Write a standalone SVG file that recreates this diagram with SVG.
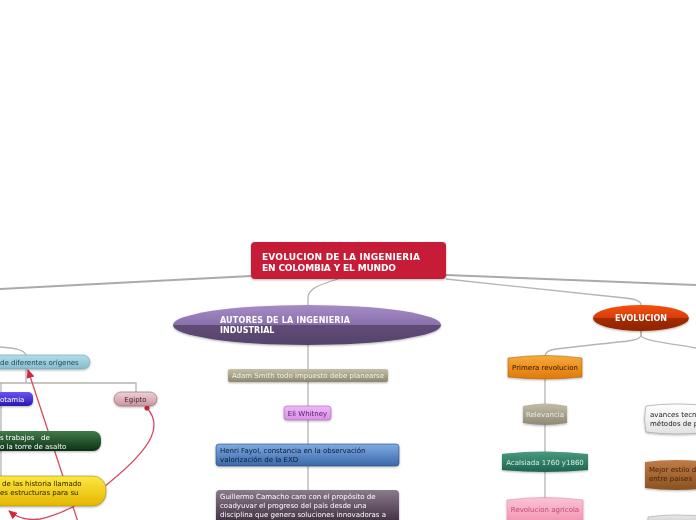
<svg xmlns="http://www.w3.org/2000/svg" width="696" height="520" viewBox="0 0 696 520">
<style>
text{font-family:"DejaVu Sans","Liberation Sans",sans-serif;font-size:7px}
.b{font-weight:bold}
.c{text-anchor:middle}
.gl{fill:none;stroke:#b4b4b4;stroke-width:1.3}
.gt{fill:none;stroke:#aaaaaa;stroke-width:2}
.rl{fill:none;stroke:#d8485f;stroke-width:1.3}
.nd{filter:url(#sh)}
</style>
<defs>
<filter id="sh" x="-20%" y="-20%" width="140%" height="160%"><feDropShadow dx="0" dy="1" stdDeviation="0.8" flood-color="#000" flood-opacity="0.3"/></filter>
<marker id="ar" markerUnits="userSpaceOnUse" markerWidth="9" markerHeight="8" refX="8" refY="4" orient="auto"><path d="M0,0 L9,4 L0,8 Z" fill="#d02840"/></marker>
<marker id="dt" markerUnits="userSpaceOnUse" markerWidth="6" markerHeight="6" refX="3" refY="3"><circle cx="3" cy="3" r="2.6" fill="#d02840"/></marker>
<linearGradient id="gAut" x1="0" y1="0" x2="0" y2="1"><stop offset="0" stop-color="#a68cc6"/><stop offset="0.5" stop-color="#8a70aa"/><stop offset="0.5" stop-color="#614c78"/><stop offset="1" stop-color="#55426a"/></linearGradient>
<linearGradient id="gEvo" x1="0" y1="0" x2="0" y2="1"><stop offset="0" stop-color="#f4500e"/><stop offset="0.5" stop-color="#d83c06"/><stop offset="0.5" stop-color="#a42c00"/><stop offset="1" stop-color="#8e2400"/></linearGradient>
<linearGradient id="gAdam" x1="0" y1="0" x2="0" y2="1"><stop offset="0" stop-color="#c4c0a8"/><stop offset="1" stop-color="#8c8870"/></linearGradient>
<linearGradient id="gEli" x1="0" y1="0" x2="0" y2="1"><stop offset="0" stop-color="#eeb8f6"/><stop offset="1" stop-color="#d890e6"/></linearGradient>
<linearGradient id="gHen" x1="0" y1="0" x2="0" y2="1"><stop offset="0" stop-color="#80acE4"/><stop offset="1" stop-color="#3a68a8"/></linearGradient>
<linearGradient id="gGui" x1="0" y1="0" x2="0" y2="1"><stop offset="0" stop-color="#8a7a8a"/><stop offset="1" stop-color="#2e1e30"/></linearGradient>
<linearGradient id="gPri" x1="0" y1="0" x2="0" y2="1"><stop offset="0" stop-color="#f8aa3a"/><stop offset="1" stop-color="#e07808"/></linearGradient>
<linearGradient id="gRel" x1="0" y1="0" x2="0" y2="1"><stop offset="0" stop-color="#c0bca8"/><stop offset="1" stop-color="#8e8a76"/></linearGradient>
<linearGradient id="gAca" x1="0" y1="0" x2="0" y2="1"><stop offset="0" stop-color="#4a9a80"/><stop offset="1" stop-color="#1c6450"/></linearGradient>
<linearGradient id="gAgr" x1="0" y1="0" x2="0" y2="1"><stop offset="0" stop-color="#fac4d4"/><stop offset="1" stop-color="#f296b4"/></linearGradient>
<linearGradient id="gAva" x1="0" y1="0" x2="0" y2="1"><stop offset="0" stop-color="#ffffff"/><stop offset="1" stop-color="#e2e2e2"/></linearGradient>
<linearGradient id="gMej" x1="0" y1="0" x2="0" y2="1"><stop offset="0" stop-color="#c07c48"/><stop offset="1" stop-color="#8a5220"/></linearGradient>
<linearGradient id="gGry" x1="0" y1="0" x2="0" y2="1"><stop offset="0" stop-color="#e8e8e8"/><stop offset="1" stop-color="#bcbcbc"/></linearGradient>
<linearGradient id="gOri" x1="0" y1="0" x2="0" y2="1"><stop offset="0" stop-color="#b4dde8"/><stop offset="1" stop-color="#86bccb"/></linearGradient>
<linearGradient id="gMes" x1="0" y1="0" x2="0" y2="1"><stop offset="0" stop-color="#6c54f2"/><stop offset="1" stop-color="#2a18b0"/></linearGradient>
<linearGradient id="gEgi" x1="0" y1="0" x2="0" y2="1"><stop offset="0" stop-color="#eed0d6"/><stop offset="1" stop-color="#c896a2"/></linearGradient>
<linearGradient id="gTra" x1="0" y1="0" x2="0" y2="1"><stop offset="0" stop-color="#427c4a"/><stop offset="1" stop-color="#0c3016"/></linearGradient>
<linearGradient id="gHis" x1="0" y1="0" x2="0" y2="1"><stop offset="0" stop-color="#fce840"/><stop offset="1" stop-color="#e4b600"/></linearGradient>
</defs>
<rect width="696" height="520" fill="#ffffff"/>
<g id="connectors">
<path class="gt" d="M251 276 L0 289"/>
<path class="gt" d="M446 275 L696 285"/>
<path class="gl" d="M446 279 L625 298 C636 299 641 301 641 305"/>
<path class="gl" d="M338 279 C318 285 308 289 308 298 L308 305"/>
<path class="gl" d="M308 345 L308 490"/>
<path class="gl" d="M641 331 L641 335 C641 340 632 341 600 344 L556 349 C549 350 545 352 545 356"/>
<path class="gl" d="M641 331 L641 335 C641 340 660 342 696 348"/>
<path class="gl" d="M545 378 L545 498"/>
<path class="gl" d="M0 347 C12 348 24 349 26 355"/>
<path class="gl" d="M26 369 L26 383 M0 383 L136 383 L136 392 M1 383 L1 490"/>
<path class="rl" d="M78 522 L28 370" marker-end="url(#ar)"/>
<path class="rl" d="M147 408 C162 425 155 445 110 482 C90 500 60 515 40 519 C25 521 15 516 9 511" marker-start="url(#dt)" marker-end="url(#ar)"/>
</g>
<g id="root" class="nd">
<rect x="251" y="242" width="195" height="37" rx="4" fill="#c71f37"/>
<text x="262" y="260" class="b" fill="#ffffff" style="font-size:9px" textLength="158">EVOLUCION DE LA INGENIERIA</text>
<text x="262" y="271" class="b" fill="#ffffff" style="font-size:9px" textLength="134">EN COLOMBIA Y EL MUNDO</text>
</g>
<g id="autores" class="nd">
<ellipse cx="307" cy="325" rx="134" ry="20" fill="url(#gAut)"/>
<text x="220" y="323" class="b" fill="#ffffff" style="font-size:8px" textLength="130">AUTORES DE LA INGENIERIA</text>
<text x="220" y="333" class="b" fill="#ffffff" style="font-size:8px">INDUSTRIAL</text>
</g>
<g id="adam" class="nd">
<rect x="228" y="369" width="160" height="13" rx="2" fill="url(#gAdam)"/>
<text x="308" y="378" class="c" fill="#f2f0e4">Adam Smith todo impuesto debe planearse</text>
</g>
<g id="eli" class="nd">
<rect x="284" y="406" width="47" height="14" rx="3" fill="url(#gEli)" stroke="#b060c0" stroke-width="0.6"/>
<text x="307.5" y="415.5" class="c" fill="#5a1a6a">Eli Whitney</text>
</g>
<g id="henri" class="nd">
<rect x="216" y="444" width="183" height="22" rx="3" fill="url(#gHen)" stroke="#2a4a7a" stroke-width="0.6"/>
<text x="220" y="453" fill="#0a1830">Henri Fayol, constancia en la observación</text>
<text x="220" y="462" fill="#0a1830">valorización de la EXD</text>
</g>
<g id="guillermo" class="nd">
<rect x="216" y="490" width="183" height="40" rx="4" fill="url(#gGui)"/>
<text x="220" y="499" fill="#ffffff">Guillermo Camacho caro con el propósito de</text>
<text x="220" y="508" fill="#ffffff">coadyuvar el progreso del país desde una</text>
<text x="220" y="517" fill="#ffffff">disciplina que genera soluciones innovadoras a</text>
</g>
<g id="evolucion" class="nd">
<ellipse cx="641" cy="318" rx="48" ry="13" fill="url(#gEvo)"/>
<text x="641" y="321" class="b c" fill="#ffffff" style="font-size:8px">EVOLUCION</text>
</g>
<g id="primera" class="nd">
<path d="M508 358 Q545 353 582 358 L582 377 Q545 381 508 377 Z" fill="url(#gPri)" stroke="#9a5a10" stroke-width="0.5"/>
<text x="545" y="370" class="c" fill="#2a1400">Primera revolucion</text>
</g>
<g id="relevancia" class="nd">
<path d="M523 406 Q545 401 567 406 L567 423 Q545 427 523 423 Z" fill="url(#gRel)"/>
<text x="545" y="417" class="c" fill="#eeece0">Relevancia</text>
</g>
<g id="acalsiada" class="nd">
<path d="M502 454 Q545 449 588 454 L588 470 Q545 474 502 470 Z" fill="url(#gAca)"/>
<text x="545" y="465" class="c" fill="#d8f0e6">Acalsiada 1760 y1860</text>
</g>
<g id="agricola" class="nd">
<path d="M507 500 Q545 495 583 500 L583 520 Q545 524 507 520 Z" fill="url(#gAgr)" stroke="#e080a0" stroke-width="0.5"/>
<text x="545" y="512" class="c" fill="#c84478">Revolucion agricola</text>
</g>
<g id="avances" class="nd">
<path d="M646 406 Q675 402 710 406 L710 432 Q675 436 646 432 Q643 419 646 406 Z" fill="url(#gAva)" stroke="#999999" stroke-width="0.6"/>
<text x="650" y="417" fill="#1a1a1a">avances tecn</text>
<text x="650" y="426" fill="#1a1a1a">métodos de p</text>
</g>
<g id="mejor" class="nd">
<path d="M645 462 Q675 458 710 462 L710 488 Q675 492 645 488 Z" fill="url(#gMej)"/>
<text x="649" y="472" fill="#4a2008">Mejor estilo d</text>
<text x="649" y="481" fill="#4a2008">entre paises</text>
</g>
<g id="bottomright" class="nd">
<path d="M648 517 Q675 513 710 517 L710 530 L648 530 Z" fill="url(#gGry)" stroke="#999999" stroke-width="0.5"/>
</g>
<g id="origenes" class="nd">
<rect x="-20" y="355" width="110" height="14" rx="7" fill="url(#gOri)" stroke="#7aa0ac" stroke-width="0.6"/>
<text x="0" y="365" fill="#24485a">de diferentes orígenes</text>
</g>
<g id="mesopotamia" class="nd">
<rect x="-30" y="392" width="63" height="14" rx="5" fill="url(#gMes)"/>
<text x="0" y="402" fill="#ffffff">otamia</text>
</g>
<g id="egipto" class="nd">
<rect x="114" y="392" width="43" height="14" rx="7" fill="url(#gEgi)" stroke="#946070" stroke-width="0.6"/>
<text x="135.5" y="402" class="c" fill="#4a1a28">Egipto</text>
</g>
<g id="trabajos" class="nd">
<rect x="-30" y="431" width="131" height="20" rx="8" fill="url(#gTra)"/>
<text x="0" y="440" fill="#ffffff" style="white-space:pre" xml:space="preserve">s trabajos   de</text>
<text x="0" y="449" fill="#ffffff">o la torre de asalto</text>
</g>
<g id="historia" class="nd">
<rect x="-30" y="476" width="136" height="30" rx="13" fill="url(#gHis)" stroke="#a08a30" stroke-width="0.6"/>
<text x="2" y="486" fill="#2a2000">de las historia llamado</text>
<text x="0" y="495" fill="#2a2000">es estructuras para su</text>
</g>
</svg>
